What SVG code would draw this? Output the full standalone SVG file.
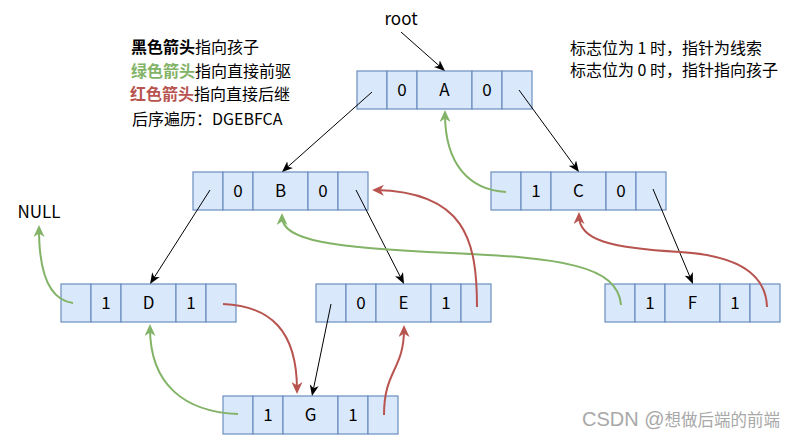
<svg xmlns="http://www.w3.org/2000/svg" width="807" height="441" viewBox="0 0 807 441">
<style>
.c{fill:#dae8fc;stroke:#6c8ebf;stroke-width:1.2}
.t{font-family:"Noto Sans CJK SC","Noto Sans",sans-serif;font-size:17px;fill:#000;text-anchor:middle}
.lg{font-family:"Noto Sans CJK SC",sans-serif;font-size:16px}
.rt{font-family:"Noto Sans CJK SC",sans-serif;font-size:16px;fill:#000}
.k{fill:none;stroke:#000;stroke-width:1;marker-end:url(#ak)}
.g{fill:none;stroke:#82b366;stroke-width:2;marker-end:url(#ag)}
.r{fill:none;stroke:#b85450;stroke-width:2;marker-end:url(#ar)}
</style>
<defs>
<marker id="ak" viewBox="0 0 11 9" refX="7" refY="4.5" markerWidth="11" markerHeight="9" markerUnits="userSpaceOnUse" orient="auto"><path d="M0,0 L11,4.5 L0,9 L3,4.5 z" fill="#000"/></marker>
<marker id="ag" viewBox="0 0 12 11" refX="8" refY="5.5" markerWidth="12" markerHeight="11" markerUnits="userSpaceOnUse" orient="auto"><path d="M0,0 L12,5.5 L0,11 L3.5,5.5 z" fill="#82b366"/></marker>
<marker id="ar" viewBox="0 0 12 11" refX="8" refY="5.5" markerWidth="12" markerHeight="11" markerUnits="userSpaceOnUse" orient="auto"><path d="M0,0 L12,5.5 L0,11 L3.5,5.5 z" fill="#b85450"/></marker>
<g id="cells">
<rect class="c" x="0" y="0" width="30" height="38"/>
<rect class="c" x="30" y="0" width="30" height="38"/>
<rect class="c" x="60" y="0" width="55" height="38"/>
<rect class="c" x="115" y="0" width="30" height="38"/>
<rect class="c" x="145" y="0" width="30" height="38"/>
</g>
</defs>
<rect width="807" height="441" fill="#fff"/>

<g id="legend">
<text class="lg" x="131" y="53" font-weight="bold" fill="#000">黑色箭头<tspan font-weight="normal">指向孩子</tspan></text>
<text class="lg" x="131" y="76.5" font-weight="bold" fill="#82b366">绿色箭头<tspan font-weight="normal" fill="#000">指向直接前驱</tspan></text>
<text class="lg" x="130" y="99.5" font-weight="bold" fill="#b85450">红色箭头<tspan font-weight="normal" fill="#000">指向直接后继</tspan></text>
<text class="lg" x="132" y="125" fill="#000">后序遍历：DGEBFCA</text>
</g>
<g id="note">
<text class="rt" x="570" y="53.5">标志位为 1 时，指针为线索</text>
<text class="rt" x="570" y="75.5">标志位为 0 时，指针指向孩子</text>
</g>
<g id="root"><text class="t" x="401" y="25">root</text></g>
<g id="null"><text class="t" x="39" y="218">NULL</text></g>

<g id="nodeA" transform="translate(357,71)"><use href="#cells"/><text class="t" x="45" y="25">0</text><text class="t" x="87.5" y="25">A</text><text class="t" x="130" y="25">0</text></g>
<g id="nodeB" transform="translate(193,172)"><use href="#cells"/><text class="t" x="45" y="25">0</text><text class="t" x="87.5" y="25">B</text><text class="t" x="130" y="25">0</text></g>
<g id="nodeC" transform="translate(491,172)"><use href="#cells"/><text class="t" x="45" y="25">1</text><text class="t" x="87.5" y="25">C</text><text class="t" x="130" y="25">0</text></g>
<g id="nodeD" transform="translate(61,284)"><use href="#cells"/><text class="t" x="45" y="25">1</text><text class="t" x="87.5" y="25">D</text><text class="t" x="130" y="25">1</text></g>
<g id="nodeE" transform="translate(316,284)"><use href="#cells"/><text class="t" x="45" y="25">0</text><text class="t" x="87.5" y="25">E</text><text class="t" x="130" y="25">1</text></g>
<g id="nodeF" transform="translate(605,284)"><use href="#cells"/><text class="t" x="45" y="25">1</text><text class="t" x="87.5" y="25">F</text><text class="t" x="130" y="25">1</text></g>
<g id="nodeG" transform="translate(223,396)"><use href="#cells"/><text class="t" x="45" y="25">1</text><text class="t" x="87.5" y="25">G</text><text class="t" x="130" y="25">1</text></g>

<g id="connectors">
<path class="k" d="M401 32 L442 68.3"/>
<path class="k" d="M372 92 L285 169.3"/>
<path class="k" d="M519 90 L576.6 168.8"/>
<path class="k" d="M210 190 L152.2 280.6"/>
<path class="k" d="M356 190 L402.2 280.4"/>
<path class="k" d="M653 189 L691.4 280.3"/>
<path class="k" d="M331 304 L312.8 392.1"/>

<path class="g" d="M73 303 C50 300 39 275 39 229"/>
<path class="g" d="M506 192 C470 190 445 165 445 114"/>
<path class="g" d="M621 305 C618 265 560 258 450 253 C330 248 282 240 282 217"/>
<path class="g" d="M238 414 C185 412 150 385 150 328"/>

<path class="r" d="M223 304 C270 306 297 330 297 390"/>
<path class="r" d="M384 415 C384 370 404 370 404 329"/>
<path class="r" d="M477 307 C477 240 465 192 376 190"/>
<path class="r" d="M767 307 C766 270 730 255 680 252 C610 248 579 240 579 216"/>
</g>
<g id="watermark"><text x="582" y="426" font-family="'Liberation Sans','Noto Sans CJK SC',sans-serif" font-size="16.5" fill="#999" opacity="0.85"><tspan font-size="20">CSDN @</tspan>想做后端的前端</text></g>
</svg>
